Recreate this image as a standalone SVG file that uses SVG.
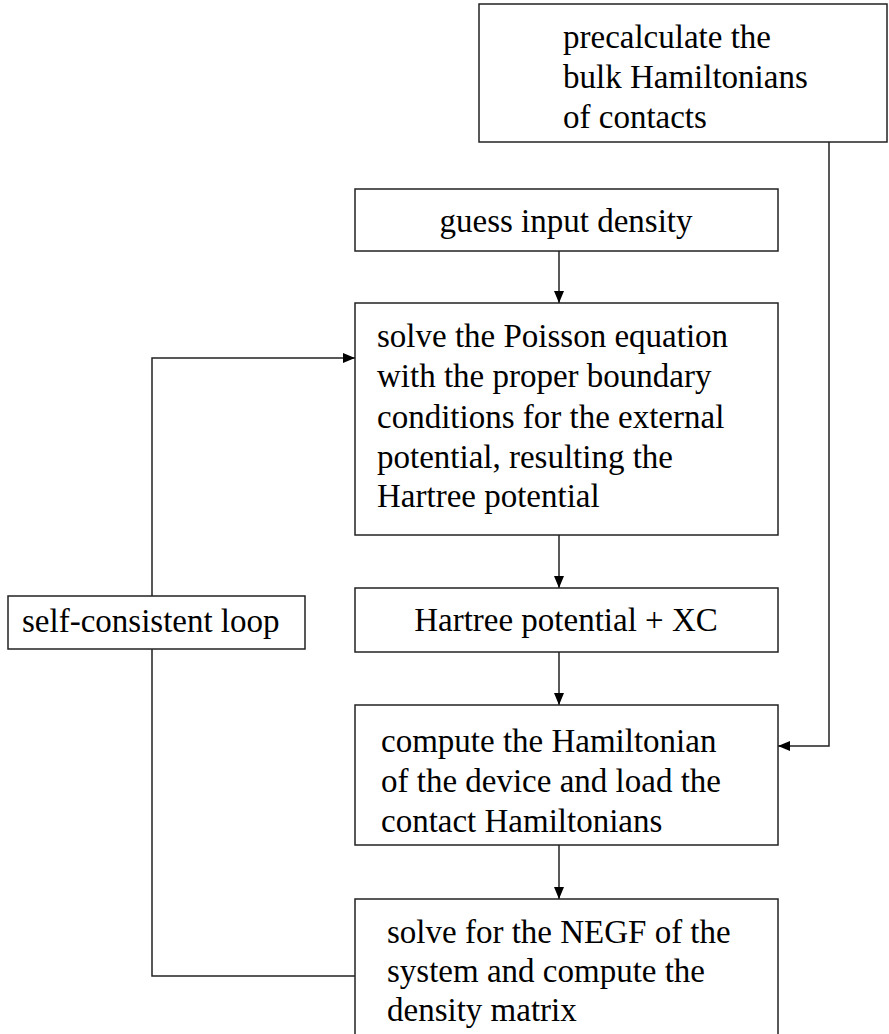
<svg xmlns="http://www.w3.org/2000/svg" width="889" height="1034" viewBox="0 0 889 1034">
<style>
.box{fill:#fff;stroke:#222;stroke-width:1.5}
.t{font-family:"Liberation Serif","Times New Roman",serif;font-size:33px;fill:#000}
.c{text-anchor:middle}
.ln{fill:none;stroke:#222;stroke-width:1.5}
</style>
<defs>
<marker id="ah" viewBox="0 0 12 10" refX="12" refY="5" markerWidth="12" markerHeight="10" markerUnits="userSpaceOnUse" orient="auto">
<path d="M0,0 L12,5 L0,10 Z" fill="#000"/>
</marker>
</defs>
<g id="connectors">
<path class="ln" d="M559,251 V303" marker-end="url(#ah)"/>
<path class="ln" d="M559,535 V588" marker-end="url(#ah)"/>
<path class="ln" d="M559,652 V705" marker-end="url(#ah)"/>
<path class="ln" d="M559,845 V899" marker-end="url(#ah)"/>
<path class="ln" d="M829,142 V746 H778" marker-end="url(#ah)"/>
<path class="ln" d="M355,976 H152 V649"/>
<path class="ln" d="M152,596 V358 H355" marker-end="url(#ah)"/>
</g>
<g id="precalc">
<rect class="box" x="479" y="4" width="408" height="138"/>
<text class="t" x="563" y="48">precalculate the</text>
<text class="t" x="563" y="88">bulk Hamiltonians</text>
<text class="t" x="563" y="128">of contacts</text>
</g>
<g id="guess">
<rect class="box" x="355" y="189" width="423" height="62"/>
<text class="t c" x="566" y="232">guess input density</text>
</g>
<g id="poisson">
<rect class="box" x="355" y="303" width="423" height="232"/>
<text class="t" x="377" y="347">solve the Poisson equation</text>
<text class="t" x="377" y="387">with the proper boundary</text>
<text class="t" x="377" y="428">conditions for the external</text>
<text class="t" x="377" y="468">potential, resulting the</text>
<text class="t" x="377" y="507">Hartree potential</text>
</g>
<g id="hartree">
<rect class="box" x="355" y="588" width="423" height="64"/>
<text class="t c" x="566" y="631">Hartree potential + XC</text>
</g>
<g id="selfloop">
<rect class="box" x="8" y="596" width="297" height="53"/>
<text class="t" x="22" y="632">self-consistent loop</text>
</g>
<g id="hamiltonian">
<rect class="box" x="355" y="705" width="423" height="140"/>
<text class="t" x="381" y="752">compute the Hamiltonian</text>
<text class="t" x="381" y="792">of the device and load the</text>
<text class="t" x="381" y="832">contact Hamiltonians</text>
</g>
<g id="negf">
<rect class="box" x="355" y="899" width="423" height="140"/>
<text class="t" x="387" y="943">solve for the NEGF of the</text>
<text class="t" x="387" y="982">system and compute the</text>
<text class="t" x="387" y="1021">density matrix</text>
</g>
</svg>
